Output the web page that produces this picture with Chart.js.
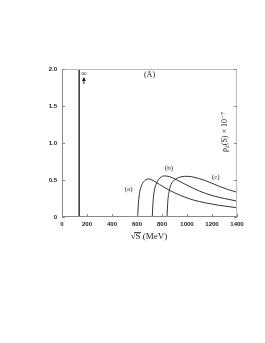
<!DOCTYPE html>
<html>
<head>
<meta charset="utf-8">
<script src="https://cdn.jsdelivr.net/npm/chart.js@4"></script>
<style>
  html, body { margin: 0; padding: 0; background: #fff; }
  #wrap { width: 265px; height: 343px; }
</style>
</head>
<body>
<div id="wrap"><canvas id="chart" width="265" height="343"></canvas></div>
<script>
// dados
const xTicks = [0, 200, 400, 600, 800, 1000, 1200, 1400];
const yTicks = [0, 0.5, 1.0, 1.5, 2.0];
const poloX = [137, 137];
const poloY = [0, 2.0];
const curvaAx = [605, 612, 620, 635, 655, 690, 720, 780, 850, 950, 1050, 1150, 1250, 1400];
const curvaAy = [0, 0.2, 0.32, 0.42, 0.48, 0.515, 0.5, 0.44, 0.37, 0.29, 0.23, 0.19, 0.16, 0.125];
const curvaBx = [722, 728, 737, 752, 775, 815, 860, 920, 1000, 1100, 1200, 1300, 1400];
const curvaBy = [0, 0.2, 0.34, 0.44, 0.51, 0.555, 0.545, 0.5, 0.43, 0.35, 0.29, 0.25, 0.215];
const curvaCx = [840, 846, 856, 872, 900, 960, 1000, 1050, 1150, 1250, 1330, 1400];
const curvaCy = [0, 0.2, 0.34, 0.44, 0.5, 0.545, 0.55, 0.54, 0.49, 0.42, 0.37, 0.335];
const rotulos = [
  { texto: '(a)', x: 533, y: 0.37 },
  { texto: '(b)', x: 855, y: 0.66 },
  { texto: '(c)', x: 1230, y: 0.54 }
];

function pares(xs, ys) {
  return xs.map((x, i) => ({ x: x, y: ys[i] }));
}

const serif = '"Liberation Serif", "DejaVu Serif", serif';
const sans = '"Liberation Sans", Arial, sans-serif';

// moldura, ticks para dentro e textos
const extras = {
  id: 'extras',
  afterDraw(chart) {
    const ctx = chart.ctx;
    const a = chart.chartArea;
    const sx = chart.scales.x, sy = chart.scales.y;
    ctx.save();
    ctx.lineWidth = 1;
    ctx.strokeStyle = '#bbb';
    ctx.beginPath();
    ctx.moveTo(a.left, a.top + 0.5); ctx.lineTo(a.right, a.top + 0.5);
    ctx.moveTo(a.right - 0.5, a.top); ctx.lineTo(a.right - 0.5, a.bottom);
    ctx.stroke();
    ctx.strokeStyle = '#888';
    ctx.beginPath();
    ctx.moveTo(a.left + 0.5, a.top); ctx.lineTo(a.left + 0.5, a.bottom);
    ctx.moveTo(a.left, a.bottom - 0.5); ctx.lineTo(a.right, a.bottom - 0.5);
    yTicks.forEach(v => {
      const py = Math.round(sy.getPixelForValue(v)) + 0.5;
      ctx.moveTo(a.left, py); ctx.lineTo(a.left + 3, py);
      ctx.moveTo(a.right, py); ctx.lineTo(a.right - 3, py);
    });
    xTicks.forEach(v => {
      const px = Math.round(sx.getPixelForValue(v)) + 0.5;
      ctx.moveTo(px, a.bottom); ctx.lineTo(px, a.bottom - 3);
    });
    ctx.stroke();

    // infinito e seta
    const px = sx.getPixelForValue(175);
    ctx.fillStyle = '#222';
    ctx.font = '8px ' + serif;
    ctx.textAlign = 'center';
    ctx.textBaseline = 'middle';
    ctx.fillText('∞', px, a.top + 5);
    ctx.strokeStyle = '#222';
    ctx.beginPath();
    ctx.moveTo(px, a.top + 15); ctx.lineTo(px, a.top + 9);
    ctx.stroke();
    ctx.beginPath();
    ctx.moveTo(px, a.top + 8); ctx.lineTo(px - 2, a.top + 12); ctx.lineTo(px + 2, a.top + 12);
    ctx.closePath(); ctx.fill();

    ctx.font = '8px ' + serif;
    ctx.fillText('(A)', sx.getPixelForValue(700), a.top + 6);

    ctx.font = '7px ' + serif;
    rotulos.forEach(r => {
      ctx.fillText(r.texto, sx.getPixelForValue(r.x), sy.getPixelForValue(r.y));
    });

    // titulo do eixo x
    ctx.font = '9px ' + serif;
    ctx.fillText('√S (MeV)', 149, 237);
    ctx.strokeStyle = '#222';
    ctx.lineWidth = 0.8;
    ctx.beginPath();
    ctx.moveTo(134, 232.5); ctx.lineTo(141, 232.5);
    ctx.stroke();

    // titulo do eixo y (girado)
    ctx.translate(225, 132);
    ctx.rotate(-Math.PI / 2);
    ctx.font = '8px ' + serif;
    ctx.fillText('ρ₄(S) × 10⁻⁷', 0, 0);
    ctx.restore();
  }
};

new Chart(document.getElementById('chart'), {
  type: 'line',
  data: {
    datasets: [
      { data: pares(poloX, poloY), borderColor: '#000', borderWidth: 1.2, pointRadius: 0, tension: 0 },
      { data: pares(curvaAx, curvaAy), borderColor: '#333', borderWidth: 1, pointRadius: 0, cubicInterpolationMode: 'monotone' },
      { data: pares(curvaBx, curvaBy), borderColor: '#333', borderWidth: 1, pointRadius: 0, cubicInterpolationMode: 'monotone' },
      { data: pares(curvaCx, curvaCy), borderColor: '#333', borderWidth: 1, pointRadius: 0, cubicInterpolationMode: 'monotone' }
    ]
  },
  options: {
    responsive: false,
    animation: false,
    clip: false,
    layout: { padding: { left: 0, right: 28, top: 69, bottom: 0 } },
    plugins: { legend: { display: false }, tooltip: { enabled: false } },
    scales: {
      x: {
        type: 'linear', min: 0, max: 1400,
        afterBuildTicks: s => { s.ticks = xTicks.map(v => ({ value: v })); },
        afterFit: s => { s.height = 126; },
        grid: { display: false, drawTicks: false },
        border: { display: false },
        ticks: {
          color: '#222', padding: 4, maxRotation: 0,
          font: { size: 6, weight: 'bold', family: sans },
          callback: v => String(v)
        }
      },
      y: {
        min: 0, max: 2,
        afterBuildTicks: s => { s.ticks = yTicks.map(v => ({ value: v })); },
        afterFit: s => { s.width = 62; },
        grid: { display: false, drawTicks: false },
        border: { display: false },
        ticks: {
          color: '#222', padding: 5,
          font: { size: 6, weight: 'bold', family: sans },
          callback: v => (v === 0 ? '0' : v.toFixed(1))
        }
      }
    }
  },
  plugins: [extras]
});
</script>
</body>
</html>
